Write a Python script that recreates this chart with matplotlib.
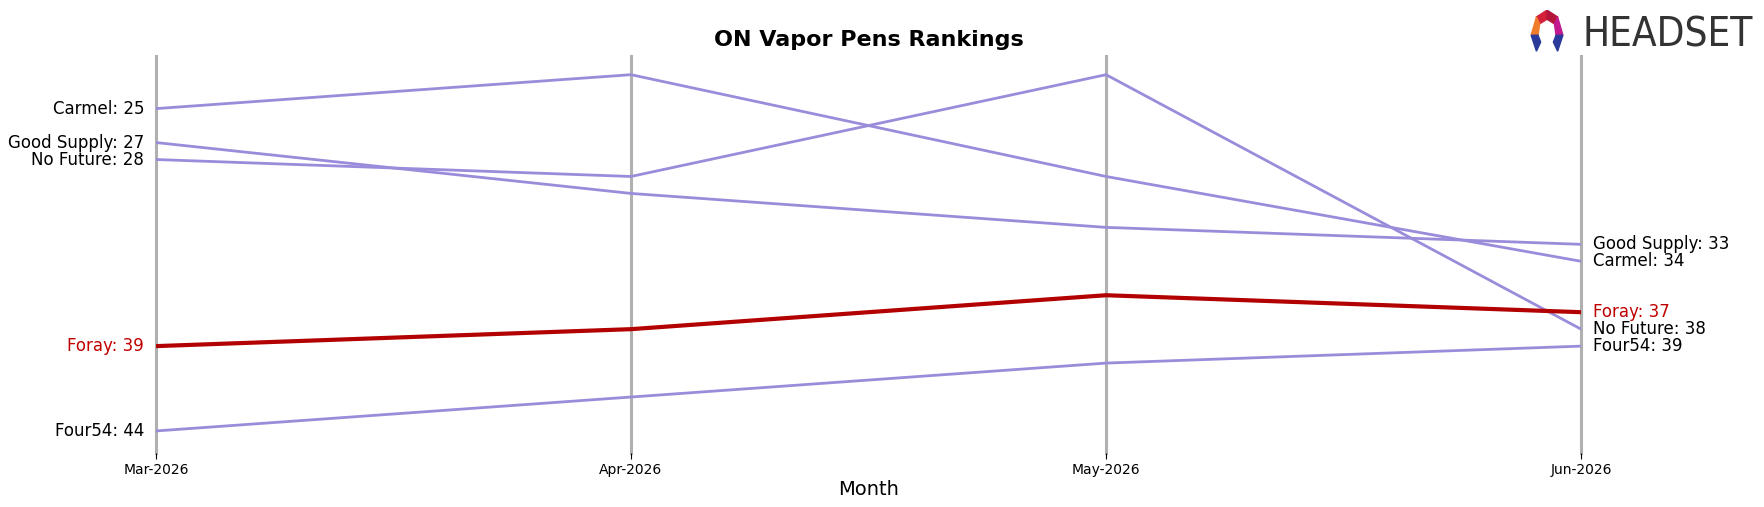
import matplotlib
matplotlib.use('Agg')
import matplotlib.pyplot as plt
from matplotlib.patches import Polygon

# Data (ranks, lower is better)
months = ['Mar-2026', 'Apr-2026', 'May-2026', 'Jun-2026']
brands = ['Carmel', 'Good Supply', 'No Future', 'Foray', 'Four54']
carmel = [25, 23, 29, 34]
good_supply = [27, 30, 32, 33]
no_future = [28, 29, 23, 38]
foray = [39, 38, 36, 37]
four54 = [44, 42, 40, 39]
ranks = [carmel, good_supply, no_future, foray, four54]
highlight = 'Foray'

fig = plt.figure(figsize=(17.64, 5.07), dpi=100)
ax = fig.add_axes([0.0884, 0.1065, 0.8079, 0.783])
x = list(range(len(months)))

for xi in x:
    ax.axvline(xi, color='#b0b0b0', lw=2.2, zorder=0, clip_on=False)

for name, r in zip(brands, ranks):
    if name == highlight:
        ax.plot(x, r, color='#b30000', lw=3, zorder=3)
        col = '#c00000'
    else:
        ax.plot(x, r, color='#9b8cdb', lw=2, zorder=2)
        col = 'black'
    ax.text(-0.025, r[0], f'{name}: {r[0]}', ha='right', va='center', fontsize=12, color=col)
    ax.text(3.025, r[-1], f'{name}: {r[-1]}', ha='left', va='center', fontsize=12, color=col)

ax.set_xlim(0, 3)
ax.set_ylim(45.3, 21.9)
ax.set_xticks(x)
ax.set_xticklabels(months, fontsize=10)
ax.set_yticks([])
for s in ax.spines.values():
    s.set_visible(False)
ax.tick_params(axis='x', length=4, color='black')
ax.set_xlabel('Month', fontsize=14, labelpad=2)
ax.set_title('ON Vapor Pens Rankings', fontsize=16, fontweight='bold', pad=7)

# Headset logo approximation
lax = fig.add_axes([0.862, 0.89, 0.03, 0.09])
lax.set_xlim(0, 10)
lax.set_ylim(0, 10)
lax.axis('off')
lax.add_patch(Polygon([[3, 8.5], [5, 10], [5, 8], [3.6, 7]], color='#d4213a'))
lax.add_patch(Polygon([[5, 10], [7, 8.5], [6.4, 7], [5, 8]], color='#b3163a'))
lax.add_patch(Polygon([[3, 8.5], [3.6, 7], [3.3, 4.5], [2, 4.5]], color='#f07c2a'))
lax.add_patch(Polygon([[7, 8.5], [8, 4.5], [6.7, 4.5], [6.4, 7]], color='#c2188f'))
lax.add_patch(Polygon([[2, 4.5], [3.3, 4.5], [3.8, 3], [3, 1]], color='#2a3a9a'))
lax.add_patch(Polygon([[8, 4.5], [6.7, 4.5], [6.2, 3], [7, 1]], color='#2a3a9a'))
fig.text(0.897, 0.93, 'HEADSET', fontsize=29, color='#333333', ha='left', va='center',
         family='DejaVu Sans', stretch='condensed', fontweight='medium')

fig.savefig('out.png', dpi=100)
